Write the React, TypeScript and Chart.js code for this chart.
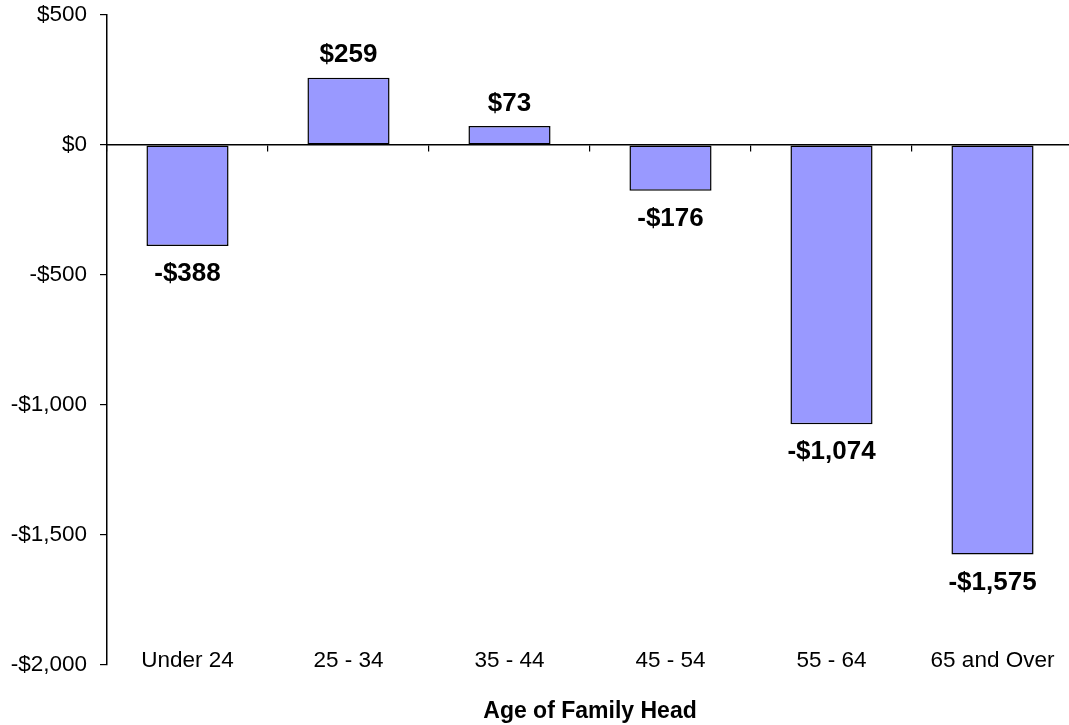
import React, { useEffect, useRef } from "react";
import { Chart, registerables } from "chart.js";

Chart.register(...registerables);

const categories = ["Under 24", "25 - 34", "35 - 44", "45 - 54", "55 - 64", "65 and Over"];
const values = [-388, 259, 73, -176, -1074, -1575];
const yTicks = [-2000, -1500, -1000, -500, 0, 500];

const FONT = "'Liberation Sans', Arial, Helvetica, sans-serif";

function fmtMoney(v: number): string {
  const abs = Math.abs(v).toLocaleString("en-US");
  return (v < 0 ? "-$" : "$") + abs;
}

const valueLabels = {
  id: "valueLabels",
  afterDatasetsDraw(chart: any) {
    const ctx = chart.ctx;
    const meta = chart.getDatasetMeta(0);
    const data = chart.data.datasets[0].data as number[];
    ctx.save();
    ctx.font = `bold 26px ${FONT}`;
    ctx.fillStyle = "#000";
    ctx.textAlign = "center";
    ctx.textBaseline = "alphabetic";
    meta.data.forEach((bar: any, i: number) => {
      const v = data[i];
      const y = v >= 0 ? bar.y - 15.5 : bar.y + 35;
      ctx.fillText(fmtMoney(v), bar.x, y);
    });
    ctx.restore();
  },
};

export default function App() {
  const ref = useRef<HTMLCanvasElement | null>(null);

  useEffect(() => {
    document.body.style.margin = "0";
    document.body.style.overflow = "hidden";
    if (!ref.current) return;
    const chart = new Chart(ref.current, {
      type: "bar",
      data: {
        labels: categories,
        datasets: [
          {
            data: values,
            backgroundColor: "#9999FF",
            borderColor: "#000000",
            borderWidth: 1.5,
            borderSkipped: false,
            barPercentage: 0.51,
            categoryPercentage: 1,
            xAxisID: "x",
            yAxisID: "y",
          },
        ],
      },
      options: {
        animation: false,
        responsive: true,
        maintainAspectRatio: false,
        layout: { padding: { top: 15, left: 0, right: 0, bottom: 0 } },
        plugins: {
          legend: { display: false },
          tooltip: { enabled: false },
        },
        scales: {
          x: {
            type: "category",
            position: { y: 0 } as any,
            offset: true,
            grid: {
              display: true,
              offset: true,
              drawOnChartArea: false,
              drawTicks: true,
              tickLength: 6,
              color: "#000",
              lineWidth: 1.2,
            },
            border: { display: true, color: "#000", width: 1.5 },
            ticks: { display: false },
          },
          x2: {
            type: "category",
            position: "bottom",
            offset: true,
            grid: { display: false },
            border: { display: false },
            ticks: {
              color: "#000",
              font: { family: FONT, size: 22.5 },
              mirror: true,
              padding: -9,
              maxRotation: 0,
              autoSkip: false,
            },
            title: {
              display: true,
              text: "Age of Family Head",
              color: "#000",
              font: { family: FONT, size: 23, weight: "bold" },
              padding: { top: 0, bottom: 0 },
            },
            afterFit(scale: any) {
              scale.height = 60;
            },
          },
          y: {
            type: "linear",
            min: -2000,
            max: 500,
            afterBuildTicks(scale: any) {
              scale.ticks = yTicks.map((v) => ({ value: v }));
            },
            grid: {
              display: true,
              drawOnChartArea: false,
              drawTicks: true,
              tickLength: 7,
              color: "#000",
              lineWidth: 1.2,
            },
            border: { display: true, color: "#000", width: 1.5 },
            ticks: {
              color: "#000",
              font: { family: FONT, size: 22.5 },
              padding: 13,
              callback: (v: any) => fmtMoney(Number(v)),
            },
            afterFit(scale: any) {
              scale.width = 107;
              scale.paddingTop = 0;
              scale.paddingBottom = 0;
            },
          },
        },
      },
      plugins: [valueLabels],
    });
    return () => chart.destroy();
  }, []);

  return (
    <div style={{ position: "fixed", left: 0, top: 0, width: 1073, height: 725 }}>
      <canvas ref={ref} />
    </div>
  );
}
